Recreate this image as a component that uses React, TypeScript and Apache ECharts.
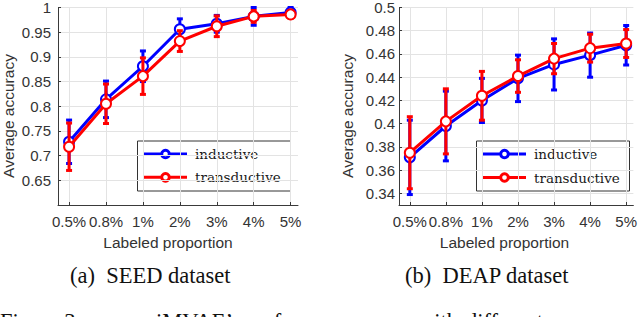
import React, { useEffect, useRef } from "react";
import * as echarts from "echarts";

const categories = ["0.5%", "0.8%", "1%", "2%", "3%", "4%", "5%"];
const positions = [1, 2, 3, 4, 5, 6, 7];

const seedInductive = [0.728, 0.814, 0.881, 0.956, 0.967, 0.982, 0.99];
const seedInductiveErr = [0.044, 0.037, 0.031, 0.021, 0.017, 0.018, 0.01];
const seedTransductive = [0.718, 0.805, 0.861, 0.932, 0.962, 0.982, 0.986];
const seedTransductiveErr = [0.048, 0.04, 0.037, 0.021, 0.021, 0.012, 0.008];

const deapInductive = [0.371, 0.398, 0.42, 0.439, 0.451, 0.459, 0.4675];
const deapInductiveErr = [0.032, 0.03, 0.019, 0.02, 0.022, 0.019, 0.017];
const deapTransductive = [0.375, 0.402, 0.424, 0.441, 0.456, 0.465, 0.469];
const deapTransductiveErr = [0.031, 0.028, 0.021, 0.014, 0.013, 0.012, 0.012];

const seedYTicks = [0.65, 0.7, 0.75, 0.8, 0.85, 0.9, 0.95, 1];
const deapYTicks = [0.34, 0.36, 0.38, 0.4, 0.42, 0.44, 0.46, 0.48, 0.5];

const legendNames = ["inductive", "transductive"];
const captions = ["(a)  SEED dataset", "(b)  DEAP dataset"];
const xTitle = "Labeled proportion";
const yTitle = "Average accuracy";
const figureWords = ["Figure 3:", "iMVAE’s", "performance", "with", "different"];

const BLUE = "#0000ff";
const RED = "#ff0000";
const AXIS = "#3a3a3a";
const LABEL = "#333333";
const GRID = "#e3e3e3";
const SANS = "Liberation Sans, Arial, sans-serif";
const SERIF = "Liberation Serif, Times New Roman, serif";
const LEGEND_FONT = "DejaVu Serif, serif";

function fmtNum(v: number) {
  return String(+v.toFixed(2));
}

function xAxisFor(gridIndex: number) {
  return {
    type: "value",
    gridIndex,
    min: 0.7,
    max: 7.2,
    axisLine: { show: true, onZero: false, lineStyle: { color: AXIS, width: 1 } },
    axisTick: { show: true, inside: true, length: 3, customValues: positions, lineStyle: { color: AXIS } },
    axisLabel: {
      customValues: positions,
      formatter: (v: number) => categories[Math.round(v) - 1],
      color: LABEL,
      fontSize: 15,
      fontFamily: SANS,
      margin: 9,
    },
    splitLine: { show: true, lineStyle: { color: GRID, width: 1 } },
  };
}

function yAxisFor(gridIndex: number, min: number, max: number, ticks: number[], margin: number) {
  return {
    type: "value",
    gridIndex,
    min,
    max,
    axisLine: { show: true, onZero: false, lineStyle: { color: AXIS, width: 1 } },
    axisTick: { show: true, inside: true, length: 3, customValues: ticks, lineStyle: { color: AXIS } },
    axisLabel: {
      customValues: ticks,
      formatter: (v: number) => fmtNum(v),
      color: LABEL,
      fontSize: 15,
      fontFamily: SANS,
      margin,
    },
    splitLine: { show: true, lineStyle: { color: GRID, width: 1 } },
  };
}

function errorSeries(idx: number, vals: number[], errs: number[], color: string, z: number) {
  return {
    type: "custom",
    xAxisIndex: idx,
    yAxisIndex: idx,
    z,
    silent: true,
    clip: false,
    encode: { x: 0, y: [1, 2] },
    data: positions.map((p, i) => [p, vals[i] - errs[i], vals[i] + errs[i]]),
    renderItem: (params: any, api: any) => {
      const x = api.value(0);
      const lo = api.coord([x, api.value(1)]);
      const hi = api.coord([x, api.value(2)]);
      const hw = 3;
      const style = { stroke: color, lineWidth: 3 };
      return {
        type: "group",
        children: [
          { type: "line", shape: { x1: lo[0], y1: lo[1], x2: hi[0], y2: hi[1] }, style },
          { type: "line", shape: { x1: lo[0] - hw, y1: lo[1], x2: lo[0] + hw, y2: lo[1] }, style },
          { type: "line", shape: { x1: hi[0] - hw, y1: hi[1], x2: hi[0] + hw, y2: hi[1] }, style },
        ],
      };
    },
  };
}

function lineSeries(idx: number, name: string, vals: number[], color: string, z: number) {
  return {
    type: "line",
    name,
    xAxisIndex: idx,
    yAxisIndex: idx,
    z,
    silent: true,
    data: positions.map((p, i) => [p, vals[i]]),
    symbol: "emptyCircle",
    symbolSize: 10,
    lineStyle: { color, width: 3 },
    itemStyle: { color, borderColor: color, borderWidth: 3 },
  };
}

function legendGraphic(box: { x: number; y: number; w: number; h: number }, lineX1: number, lineX2: number, textX: number, rows: number[]) {
  const colors = [BLUE, RED];
  const children: any[] = [
    {
      type: "rect",
      shape: { x: box.x, y: box.y, width: box.w, height: box.h },
      style: { fill: "#ffffff", stroke: "#333333", lineWidth: 1 },
    },
  ];
  rows.forEach((ry, i) => {
    const c = colors[i];
    children.push({
      type: "line",
      shape: { x1: lineX1, y1: ry, x2: lineX2, y2: ry },
      style: { stroke: c, lineWidth: 3 },
    });
    children.push({
      type: "circle",
      shape: { cx: (lineX1 + lineX2) / 2, cy: ry, r: 3.8 },
      style: { fill: "#ffffff", stroke: c, lineWidth: 3 },
    });
    children.push({
      type: "text",
      x: textX,
      y: ry,
      style: { text: legendNames[i], fill: "#1a1a1a", font: `13.5px ${LEGEND_FONT}`, align: "left", verticalAlign: "middle" },
    });
  });
  return { type: "group", z: 100, children };
}

function textEl(text: string, x: number, y: number, font: string, align: string, rotation = 0, fill = LABEL) {
  return {
    type: "text",
    x,
    y,
    rotation,
    style: { text, font, fill, align, verticalAlign: "middle" },
  };
}

export default function App() {
  const ref = useRef<HTMLDivElement>(null);

  useEffect(() => {
    document.body.style.margin = "0";
    if (!ref.current) return;
    const chart = echarts.init(ref.current, undefined, { renderer: "svg" });
    const figX = [0, 156, 245, 418, 466];
    const option: any = {
      animation: false,
      backgroundColor: "#ffffff",
      grid: [
        { left: 58, top: 6, width: 240, height: 199 },
        { left: 399, top: 6, width: 236, height: 199 },
      ],
      xAxis: [xAxisFor(0), xAxisFor(1)],
      yAxis: [yAxisFor(0, 0.6, 1, seedYTicks, 7), yAxisFor(1, 0.33, 0.5, deapYTicks, 4)],
      series: [
        errorSeries(0, seedInductive, seedInductiveErr, BLUE, 2),
        lineSeries(0, legendNames[0], seedInductive, BLUE, 3),
        errorSeries(0, seedTransductive, seedTransductiveErr, RED, 4),
        lineSeries(0, legendNames[1], seedTransductive, RED, 5),
        errorSeries(1, deapInductive, deapInductiveErr, BLUE, 2),
        lineSeries(1, legendNames[0], deapInductive, BLUE, 3),
        errorSeries(1, deapTransductive, deapTransductiveErr, RED, 4),
        lineSeries(1, legendNames[1], deapTransductive, RED, 5),
      ],
      graphic: [
        legendGraphic({ x: 137.5, y: 141, w: 153, h: 50 }, 144, 187, 195, [154, 177.3]),
        legendGraphic({ x: 476.5, y: 141, w: 153, h: 50 }, 483, 526, 534, [154, 177.5]),
        textEl(yTitle, 8, 116, `15.5px ${SANS}`, "center", Math.PI / 2),
        textEl(yTitle, 347.5, 116, `15.5px ${SANS}`, "center", Math.PI / 2),
        textEl(xTitle, 168, 242, `15.5px ${SANS}`, "center"),
        textEl(xTitle, 504.5, 242, `15.5px ${SANS}`, "center"),
        textEl(captions[0], 70, 275, `22.5px ${SERIF}`, "left", 0, "#111111"),
        textEl(captions[1], 405, 275, `22.5px ${SERIF}`, "left", 0, "#111111"),
        ...figureWords.map((w, i) => textEl(w, figX[i], 321, `22.5px ${SERIF}`, "left", 0, "#111111")),
      ],
    };
    chart.setOption(option);
    return () => chart.dispose();
  }, []);

  return <div ref={ref} style={{ width: 640, height: 317 }} />;
}
